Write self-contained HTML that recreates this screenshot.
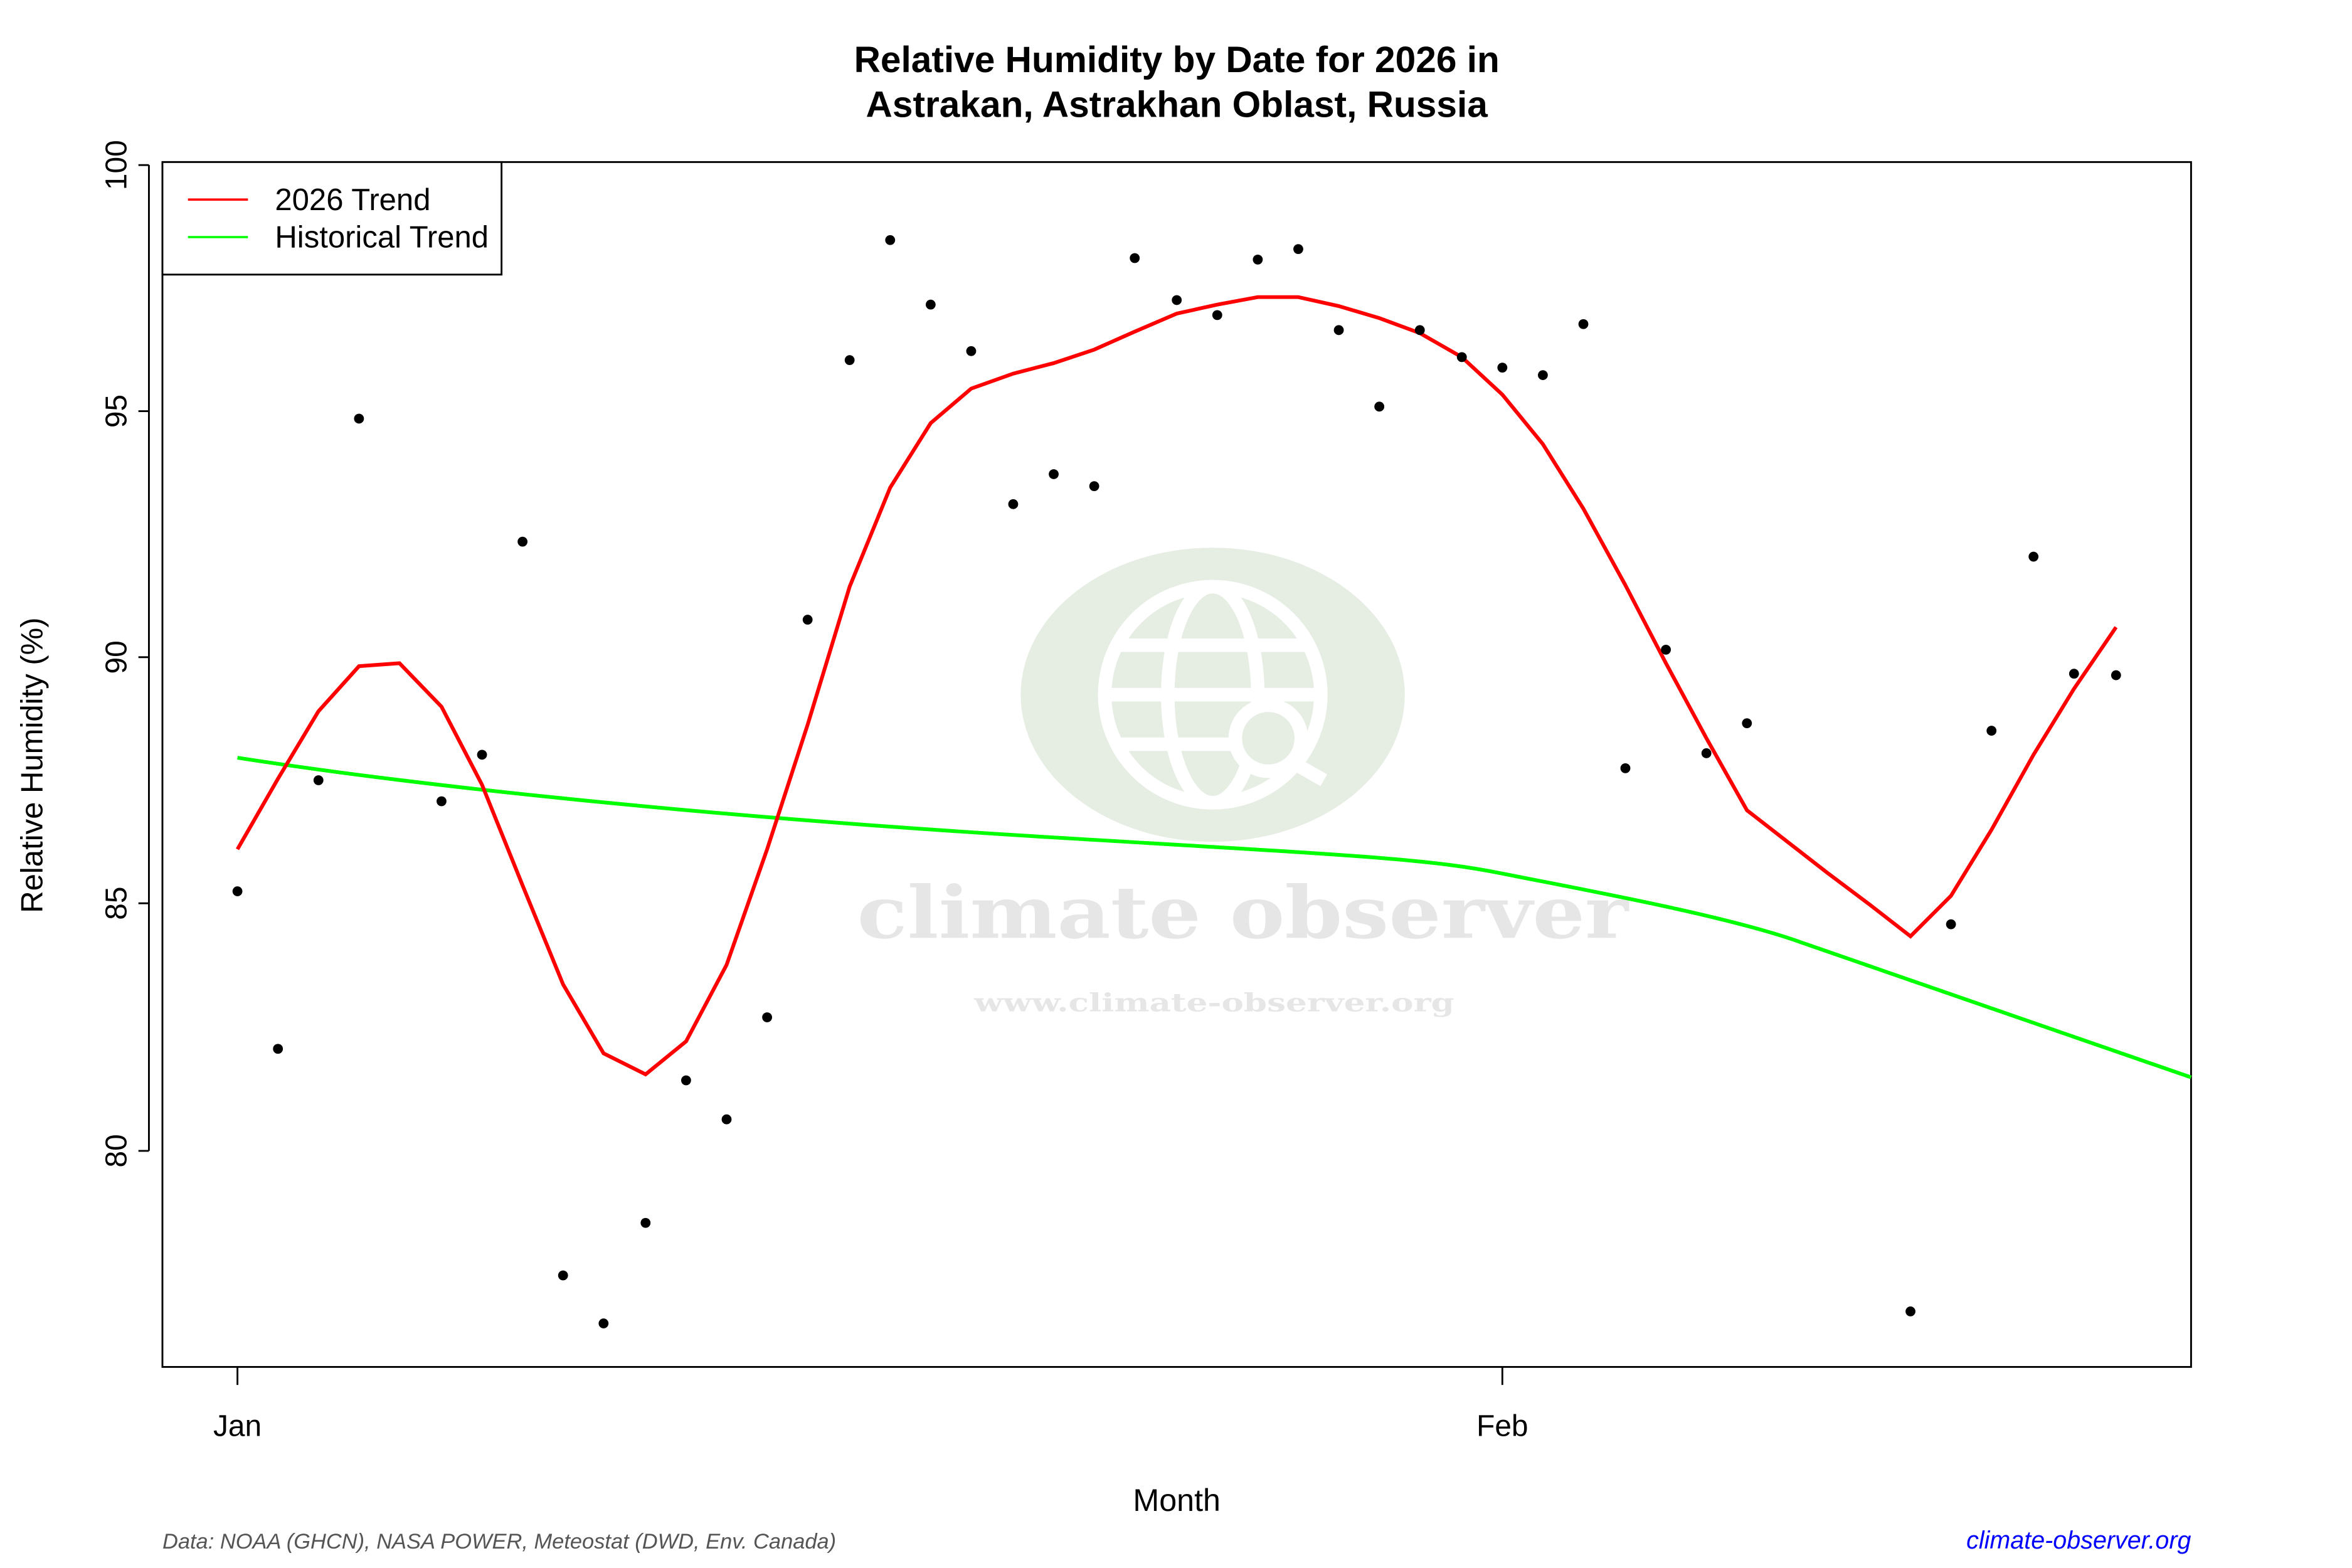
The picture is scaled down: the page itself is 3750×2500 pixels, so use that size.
<!DOCTYPE html>
<html><head><meta charset="utf-8"><style>html,body{margin:0;padding:0;background:#fff}svg{display:block}</style></head>
<body>
<svg width="3750" height="2500" viewBox="0 0 1567 1045" xmlns="http://www.w3.org/2000/svg" font-family="Liberation Sans, sans-serif">
<rect width="1567" height="1045" fill="#fff"/>
<!-- watermark -->
<ellipse cx="808" cy="463" rx="128" ry="98" fill="#e6eee4"/>
<g fill="none" stroke="#fff" stroke-width="9">
<circle cx="808" cy="463" r="72"/>
<ellipse cx="808" cy="463" rx="30" ry="72"/>
<line x1="736" y1="463" x2="880" y2="463"/>
<line x1="745" y1="430" x2="871" y2="430"/>
<line x1="745" y1="496" x2="871" y2="496"/>
<circle cx="845" cy="492" r="22" fill="#e6eee4"/>
<line x1="861" y1="508" x2="882" y2="520"/>
</g>
<text x="571" y="625" textLength="514" lengthAdjust="spacingAndGlyphs" font-family="DejaVu Serif, serif" font-weight="bold" font-size="48" fill="#e6e6e6">climate observer</text>
<text x="649" y="674" textLength="320" lengthAdjust="spacingAndGlyphs" font-family="DejaVu Serif, serif" font-weight="bold" font-size="17" fill="#e6e6e6">www.climate-observer.org</text>
<!-- title -->
<text x="784" y="48" text-anchor="middle" font-weight="bold" font-size="24.5">Relative Humidity by Date for 2026 in</text>
<text x="784" y="78" text-anchor="middle" font-weight="bold" font-size="24.5">Astrakan, Astrakhan Oblast, Russia</text>
<!-- plot box -->
<rect x="108" y="108" width="1352" height="803" fill="none" stroke="#000" stroke-width="1.2"/>
<g stroke="#000" stroke-width="1.2">
<line x1="99" y1="110" x2="99" y2="767"/>
<line x1="92" y1="110" x2="99" y2="110"/><line x1="92" y1="274" x2="99" y2="274"/><line x1="92" y1="438" x2="99" y2="438"/><line x1="92" y1="602" x2="99" y2="602"/><line x1="92" y1="767" x2="99" y2="767"/>
<line x1="158" y1="911" x2="158" y2="923"/><line x1="1001" y1="911" x2="1001" y2="923"/>
</g>
<g font-size="20" text-anchor="middle">
<text transform="translate(84,110) rotate(-90)">100</text>
<text transform="translate(84,274) rotate(-90)">95</text>
<text transform="translate(84,438) rotate(-90)">90</text>
<text transform="translate(84,602) rotate(-90)">85</text>
<text transform="translate(84,767) rotate(-90)">80</text>
<text x="158" y="957">Jan</text>
<text x="1001" y="957">Feb</text>
<text x="784" y="1007" font-size="21">Month</text>
<text transform="translate(28,510) rotate(-90)" font-size="20.5">Relative Humidity (%)</text>
</g>
<text x="108" y="1032" font-size="14.4" font-style="italic" fill="#555">Data: NOAA (GHCN), NASA POWER, Meteostat (DWD, Env. Canada)</text>
<text x="1460" y="1032" font-size="16.5" font-style="italic" fill="#0000ff" text-anchor="end">climate-observer.org</text>
<!-- green -->
<path d="M158,505 C300,527 500,546 700,558 S950,572 1000,582 S1150,610 1200,628 S1380,690 1460,718" fill="none" stroke="#00ff00" stroke-width="2.5"/>
<!-- red -->
<polyline fill="none" stroke="#ff0000" stroke-width="2.5" points="158,566 185,519 212,474 239,444 266,442 294,471 321,523 348,590 375,656 402,702 430,716 457,694 484,643 511,566 538,483 566,391 593,325 620,282 647,259 675,249 702,242 729,233 756,221 784,209 811,203 838,198 865,198 892,204 919,212 946,222 974,238 1001,263 1028,296 1055,339 1083,390 1110,442 1137,492 1164,540 1191,561 1218,582 1246,603 1273,624 1300,597 1327,553 1355,503 1382,459 1410,418"/>
<!-- points -->
<g fill="#000">
<circle cx="158" cy="594" r="3.3"/><circle cx="185" cy="699" r="3.3"/><circle cx="212" cy="520" r="3.3"/><circle cx="239" cy="279" r="3.3"/><circle cx="294" cy="534" r="3.3"/><circle cx="321" cy="503" r="3.3"/><circle cx="348" cy="361" r="3.3"/><circle cx="375" cy="850" r="3.3"/><circle cx="402" cy="882" r="3.3"/><circle cx="430" cy="815" r="3.3"/><circle cx="457" cy="720" r="3.3"/><circle cx="484" cy="746" r="3.3"/><circle cx="511" cy="678" r="3.3"/><circle cx="538" cy="413" r="3.3"/><circle cx="566" cy="240" r="3.3"/><circle cx="593" cy="160" r="3.3"/><circle cx="620" cy="203" r="3.3"/><circle cx="647" cy="234" r="3.3"/><circle cx="675" cy="336" r="3.3"/><circle cx="702" cy="316" r="3.3"/><circle cx="729" cy="324" r="3.3"/><circle cx="756" cy="172" r="3.3"/><circle cx="784" cy="200" r="3.3"/><circle cx="811" cy="210" r="3.3"/><circle cx="838" cy="173" r="3.3"/><circle cx="865" cy="166" r="3.3"/><circle cx="892" cy="220" r="3.3"/><circle cx="919" cy="271" r="3.3"/><circle cx="946" cy="220" r="3.3"/><circle cx="974" cy="238" r="3.3"/><circle cx="1001" cy="245" r="3.3"/><circle cx="1028" cy="250" r="3.3"/><circle cx="1055" cy="216" r="3.3"/><circle cx="1083" cy="512" r="3.3"/><circle cx="1110" cy="433" r="3.3"/><circle cx="1137" cy="502" r="3.3"/><circle cx="1164" cy="482" r="3.3"/><circle cx="1273" cy="874" r="3.3"/><circle cx="1300" cy="616" r="3.3"/><circle cx="1327" cy="487" r="3.3"/><circle cx="1355" cy="371" r="3.3"/><circle cx="1382" cy="449" r="3.3"/><circle cx="1410" cy="450" r="3.3"/>
</g>
<!-- legend -->
<rect x="108" y="108" width="226" height="75" fill="#fff" stroke="#000" stroke-width="1.2"/>
<line x1="125" y1="133" x2="165" y2="133" stroke="#ff0000" stroke-width="1.5"/>
<line x1="125" y1="158" x2="165" y2="158" stroke="#00ff00" stroke-width="1.5"/>
<text x="183" y="140" font-size="20.5">2026 Trend</text>
<text x="183" y="165" font-size="20.5">Historical Trend</text>
</svg>
</body></html>
